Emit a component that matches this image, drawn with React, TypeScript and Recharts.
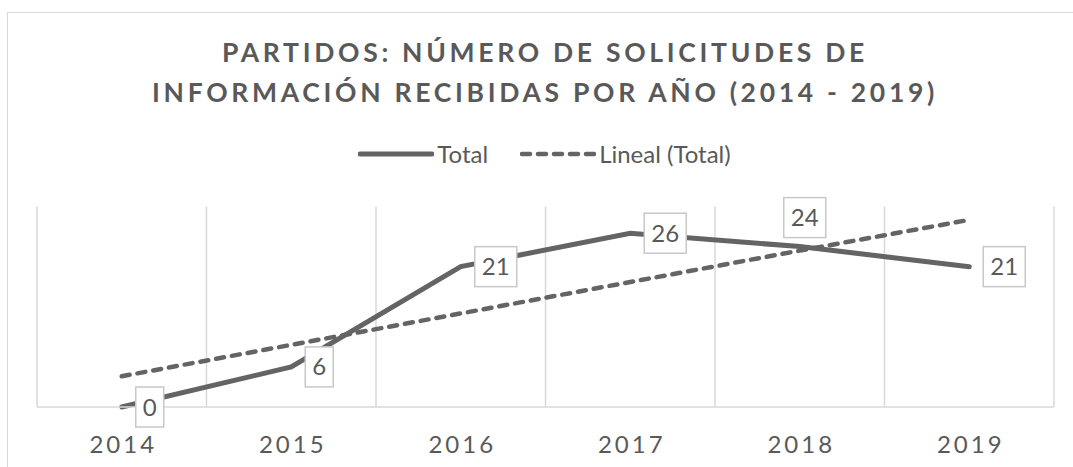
import { LineChart, Line, XAxis, YAxis, CartesianGrid, LabelList } from "recharts";

const years = ["2014", "2015", "2016", "2017", "2018", "2019"];
const total = [0, 6, 21, 26, 24, 21];
const trend = [4.6, 9.3, 14.0, 18.7, 23.4, 28.0];
const seriesNames = ["Total", "Lineal (Total)"];

const data = years.map((year, i) => ({ year, total: total[i], trend: trend[i] }));

const GREY = "#646464";
const TEXT = "#595959";
const FONT = "Lato, 'Open Sans', sans-serif";
const DASH = "8 8";

// label sits on the right of the point, except 2018 which Excel put above
const labelAbove = [false, false, false, false, true, false];

const BoxLabel = (props: any) => {
  const { x, y, value, index } = props;
  const txt = String(value);
  const w = 14 + txt.length * 14;
  const h = 40;
  const above = labelAbove[index];
  const bx = above ? x - w / 2 + 5 : x + 14;
  const by = above ? y - 9 - h : y - h / 2;
  return (
    <g>
      <rect x={bx} y={by} width={w} height={h} fill="#fff" stroke="#c8c8c8" strokeWidth={1.5} />
      <text x={bx + w / 2} y={by + h / 2 + 8.5} textAnchor="middle" fontSize={24} fill={TEXT} fontFamily={FONT}>
        {txt}
      </text>
    </g>
  );
};

const YearTick = (props: any) => {
  const { x, y, payload } = props;
  return (
    <text x={x + 1.5} y={y + 44} textAnchor="middle" fontSize={24} letterSpacing={3} fill={TEXT} fontFamily={FONT}>
      {payload.value}
    </text>
  );
};

const LegendSwatch = ({ dashed }: { dashed: boolean }) => (
  <svg width={76} height={10} style={{ marginRight: 3 }}>
    <line x1={2} y1={5} x2={74} y2={5} stroke={GREY} strokeWidth={dashed ? 4.5 : 5}
      strokeDasharray={dashed ? DASH : undefined} strokeLinecap="round" />
  </svg>
);

export default function App() {
  return (
    <div style={{ position: "absolute", left: 0, top: 0, width: 1073, height: 467, overflow: "hidden", background: "#fff" }}>
      <div style={{ position: "absolute", left: 7, top: 12, width: 1100, height: 500, border: "1.5px solid #d9d9d9" }} />
      <div style={{ position: "absolute", left: 0, top: 32, width: 1090, textAlign: "center", fontFamily: FONT, fontWeight: 700, fontSize: 26.5, letterSpacing: 3.7, lineHeight: "40px", color: TEXT }}>
        PARTIDOS: NÚMERO DE SOLICITUDES DE
        <br />
        INFORMACIÓN RECIBIDAS POR AÑO (2014 - 2019)
      </div>
      <div style={{ position: "absolute", left: 8, top: 139, width: 1073, display: "flex", justifyContent: "center", alignItems: "center", fontFamily: FONT, fontSize: 24, color: TEXT }}>
        <div style={{ display: "flex", alignItems: "center", marginRight: 32 }}>
          <LegendSwatch dashed={false} />
          <span>{seriesNames[0]}</span>
        </div>
        <div style={{ display: "flex", alignItems: "center" }}>
          <LegendSwatch dashed={true} />
          <span>{seriesNames[1]}</span>
        </div>
      </div>
      <div style={{ position: "absolute", left: 0, top: 0 }}>
        <LineChart width={1073} height={467} data={data} margin={{ top: 206.5, right: 19, bottom: 30, left: 37 }}>
          <CartesianGrid
            horizontal={false}
            stroke="#d9d9d9"
            strokeWidth={1.5}
            verticalCoordinatesGenerator={({ offset }: any) =>
              Array.from({ length: years.length + 1 }, (_, i) => offset.left + (i * offset.width) / years.length)
            }
          />
          <XAxis
            dataKey="year"
            padding={{ left: 84.75, right: 84.75 }}
            axisLine={{ stroke: "#d9d9d9", strokeWidth: 1.5 }}
            tickLine={false}
            tickSize={0}
            tick={<YearTick />}
            interval={0}
          />
          <YAxis hide domain={[0, 30]} />
          <Line
            dataKey="trend"
            name={seriesNames[1]}
            stroke={GREY}
            strokeWidth={4.5}
            strokeDasharray={DASH}
            strokeLinecap="round"
            dot={false}
            isAnimationActive={false}
          />
          <Line
            dataKey="total"
            name={seriesNames[0]}
            stroke={GREY}
            strokeWidth={5}
            strokeLinecap="round"
            dot={false}
            isAnimationActive={false}
          >
            <LabelList dataKey="total" content={<BoxLabel />} />
          </Line>
        </LineChart>
      </div>
    </div>
  );
}
